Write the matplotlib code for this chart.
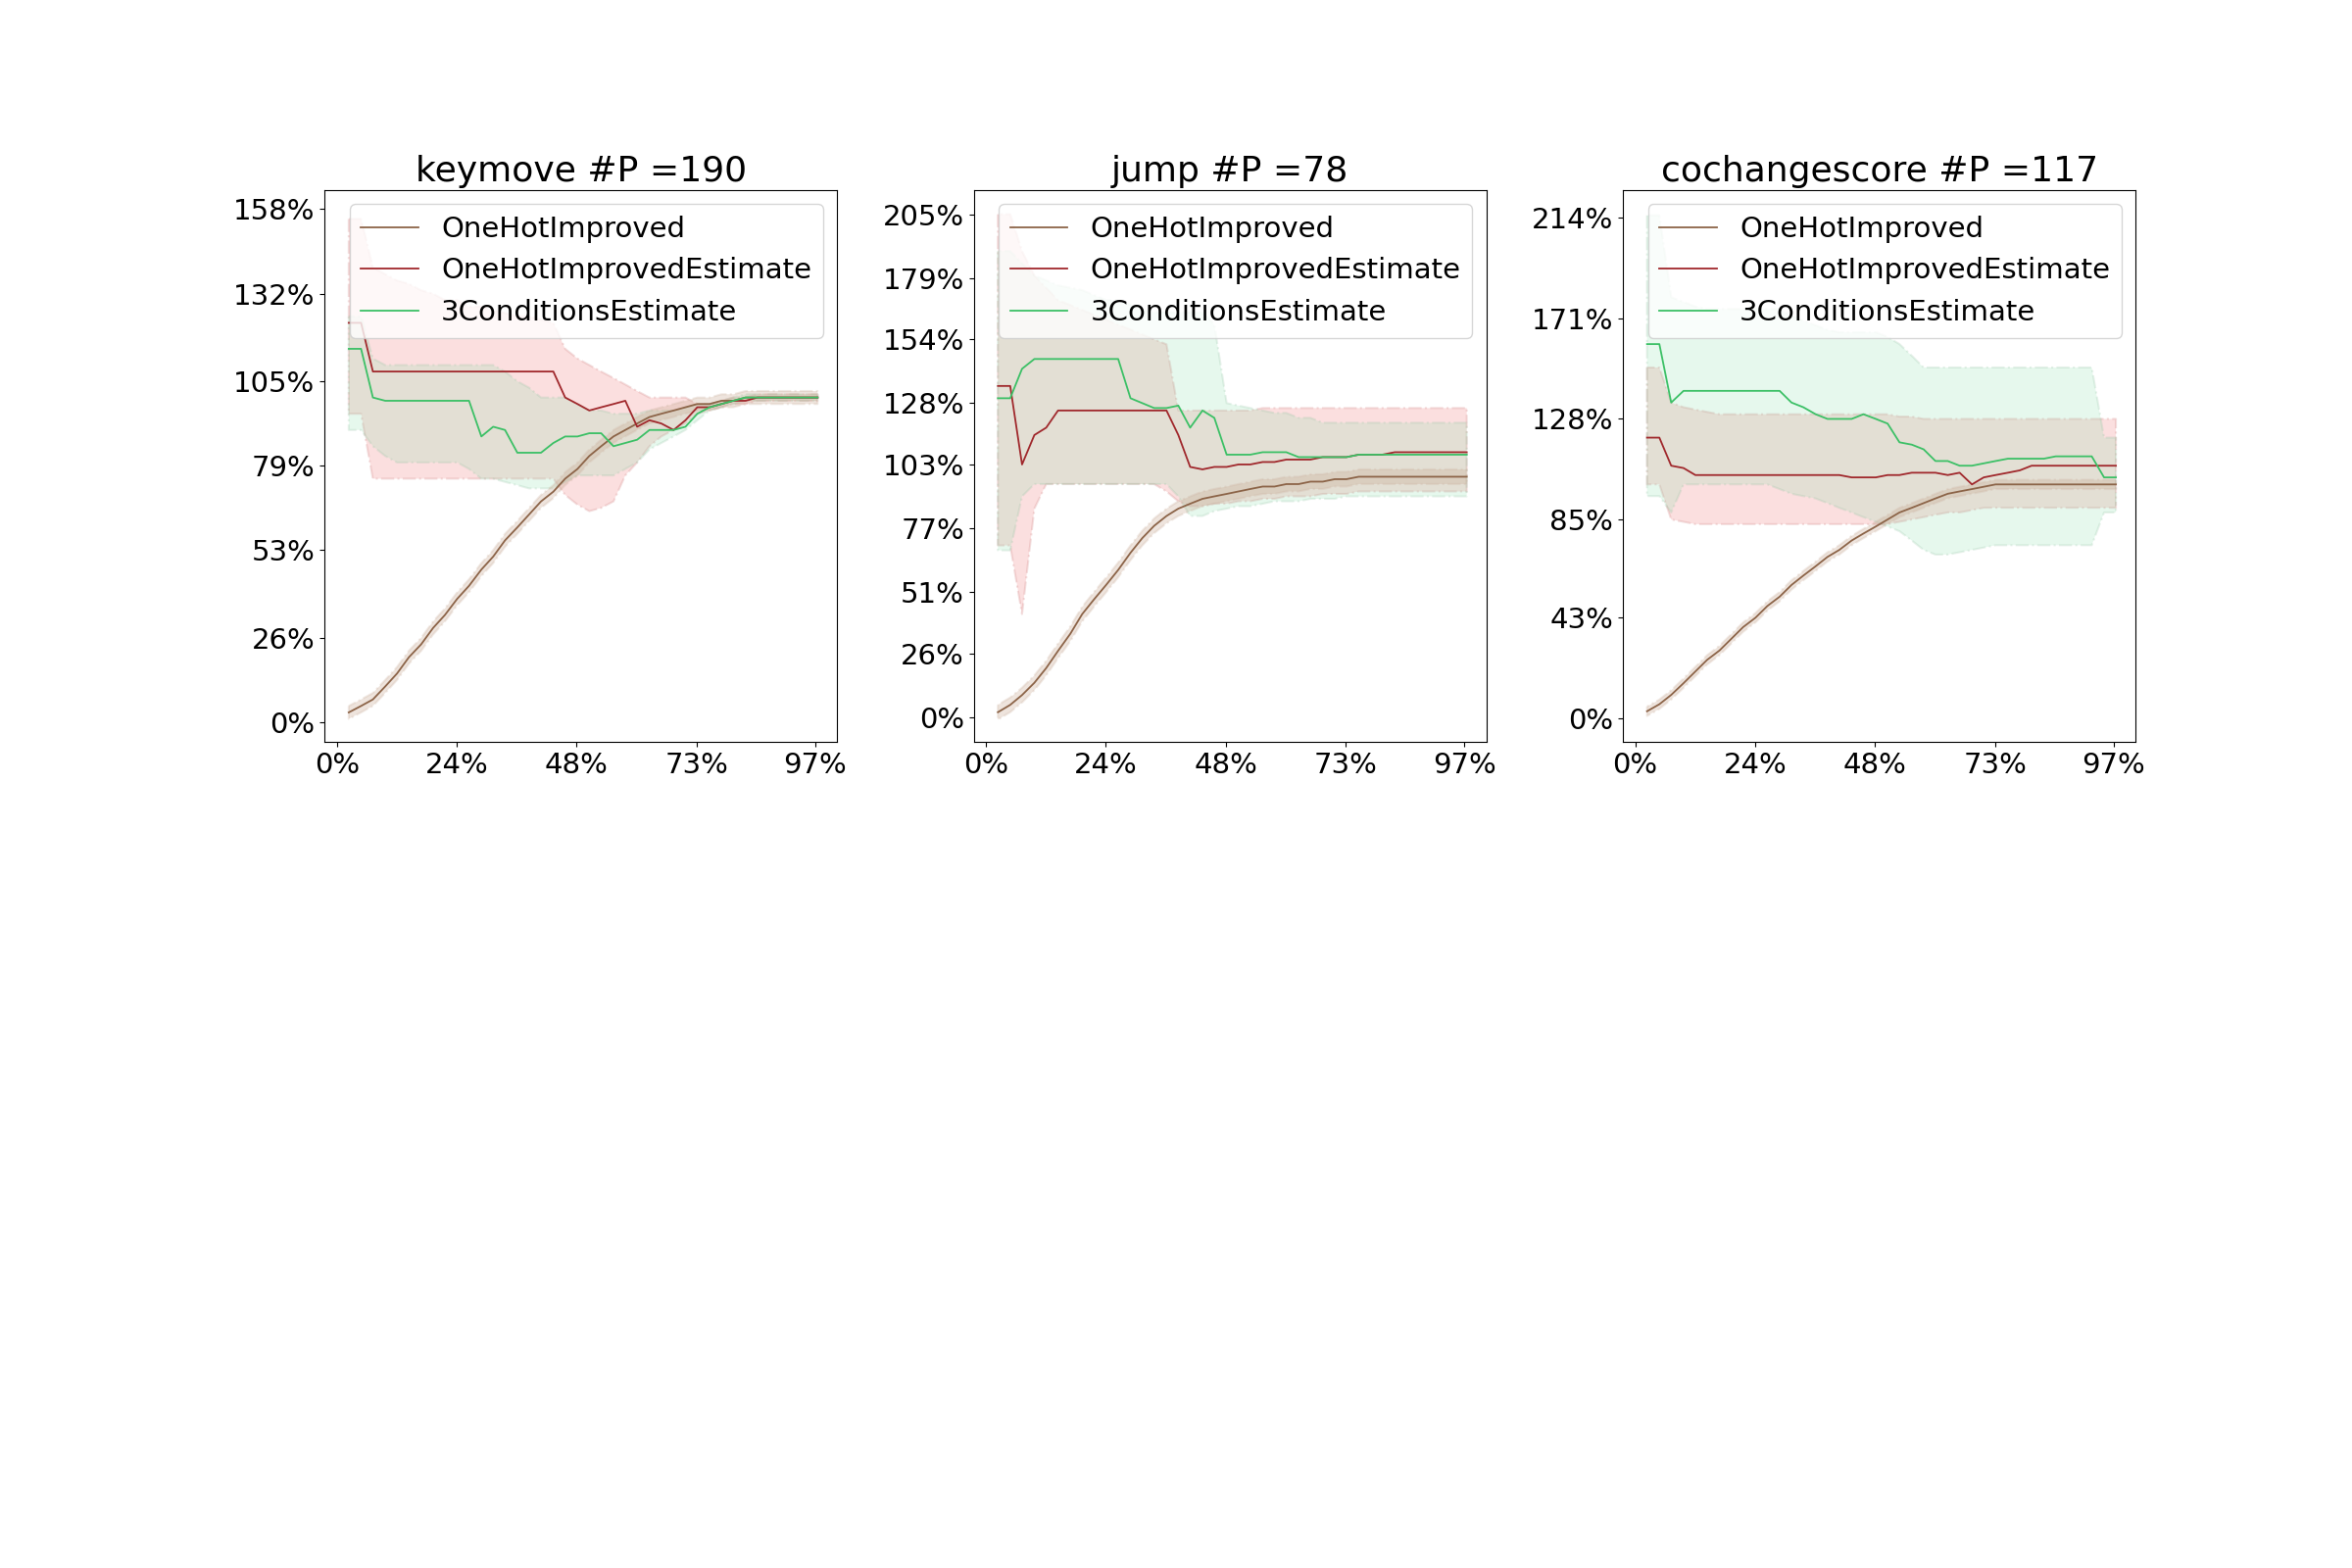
import matplotlib
matplotlib.use("Agg")
import matplotlib.pyplot as plt

# ================= Data =================
X = [0.024, 0.049, 0.073, 0.098, 0.122, 0.146, 0.171, 0.195, 0.219, 0.244,
     0.268, 0.293, 0.317, 0.341, 0.366, 0.39, 0.414, 0.439, 0.463, 0.488,
     0.512, 0.536, 0.561, 0.585, 0.609, 0.634, 0.658, 0.683, 0.707, 0.731,
     0.756, 0.78, 0.804, 0.829, 0.853, 0.878, 0.902, 0.926, 0.951, 0.975]

TITLES = ['keymove #P =190', 'jump #P =78', 'cochangescore #P =117']
X_TICKS = [0, 0.243, 0.486, 0.73, 0.97]
X_LABELS = ['0%', '24%', '48%', '73%', '97%']
Y_TICKS = [[0, 26, 53, 79, 105, 132, 158],
           [0, 26, 51, 77, 103, 128, 154, 179, 205],
           [0, 43, 85, 128, 171, 214]]
Y_LIMS = [(-6, 164), (-10, 215), (-10, 226)]
OH_WIDTH = [2, 3, 2]

# keymove
km_oh = [3, 5, 7, 11, 15, 20, 24, 29, 33, 38, 42, 47, 51, 56, 60, 64, 68, 71, 75, 78,
         82, 85, 88, 90, 92, 94, 95, 96, 97, 98, 98, 99, 99, 100, 100, 100, 100, 100, 100, 100]
km_red = [123, 123, 108, 108, 108, 108, 108, 108, 108, 108, 108, 108, 108, 108, 108, 108, 108, 108, 100, 98,
          96, 97, 98, 99, 91, 93, 92, 90, 93, 97, 97, 98, 99, 99, 100, 100, 100, 100, 100, 100]
km_green = [115, 115, 100, 99, 99, 99, 99, 99, 99, 99, 99, 88, 91, 90, 83, 83, 83, 86, 88, 88,
            89, 89, 85, 86, 87, 90, 90, 90, 91, 95, 97, 98, 99, 100, 100, 100, 100, 100, 100, 100]
km_red_hi = [155, 155, 140, 138, 136, 135, 133, 132, 130, 130, 128, 128, 127, 126, 125, 125, 124, 123, 115, 112,
             110, 108, 106, 104, 102, 100, 100, 100, 100, 98, 98, 99, 100, 100, 101, 101, 101, 101, 101, 101]
km_red_lo = [95, 95, 75, 75, 75, 75, 75, 75, 75, 75, 75, 75, 75, 75, 75, 75, 75, 75, 70, 67,
             65, 66, 68, 76, 80, 85, 88, 90, 92, 95, 96, 97, 98, 98, 99, 99, 99, 99, 99, 99]
km_gr_hi = [125, 125, 112, 110, 110, 110, 110, 110, 110, 110, 110, 110, 110, 108, 105, 103, 100, 100, 100, 98,
            96, 96, 95, 95, 95, 96, 96, 96, 97, 98, 98, 99, 100, 101, 101, 101, 101, 101, 101, 101]
km_gr_lo = [90, 90, 85, 82, 80, 80, 80, 80, 80, 80, 78, 75, 75, 74, 73, 72, 72, 72, 74, 76,
            76, 76, 76, 78, 80, 84, 86, 88, 90, 93, 96, 97, 98, 99, 99, 99, 99, 99, 99, 99]

# jump
jp_oh = [2, 5, 9, 14, 20, 27, 34, 42, 48, 54, 60, 67, 73, 78, 82, 85, 87, 89, 90, 91,
         92, 93, 94, 94, 95, 95, 96, 96, 97, 97, 98, 98, 98, 98, 98, 98, 98, 98, 98, 98]
jp_red = [135, 135, 103, 115, 118, 125, 125, 125, 125, 125, 125, 125, 125, 125, 125, 115, 102, 101, 102, 102,
          103, 103, 104, 104, 105, 105, 105, 106, 106, 106, 107, 107, 107, 108, 108, 108, 108, 108, 108, 108]
jp_green = [130, 130, 142, 146, 146, 146, 146, 146, 146, 146, 146, 130, 128, 126, 126, 127, 118, 125, 122, 107,
            107, 107, 108, 108, 108, 106, 106, 106, 106, 106, 107, 107, 107, 107, 107, 107, 107, 107, 107, 107]
jp_red_hi = [205, 205, 190, 180, 175, 170, 168, 166, 164, 162, 160, 158, 156, 154, 152, 125, 125, 125, 125, 125,
             125, 125, 126, 126, 126, 126, 126, 126, 126, 126, 126, 126, 126, 126, 126, 126, 126, 126, 126, 126]
jp_red_lo = [70, 70, 42, 85, 95, 95, 95, 95, 95, 95, 95, 95, 95, 95, 92, 88, 86, 86, 87, 87,
             88, 88, 89, 89, 90, 90, 90, 91, 91, 91, 92, 92, 92, 92, 92, 92, 92, 92, 92, 92]
jp_gr_hi = [190, 190, 185, 180, 178, 176, 175, 174, 172, 170, 170, 168, 166, 165, 165, 165, 165, 165, 160, 128,
            127, 126, 125, 124, 124, 122, 122, 120, 120, 120, 120, 120, 120, 120, 120, 120, 120, 120, 120, 120]
jp_gr_lo = [68, 68, 90, 95, 95, 95, 95, 95, 95, 95, 95, 95, 95, 95, 95, 90, 82, 82, 84, 85,
            86, 86, 87, 88, 88, 88, 89, 89, 89, 90, 90, 90, 90, 90, 90, 90, 90, 90, 90, 90]

# cochangescore
cc_oh = [3, 6, 10, 15, 20, 25, 29, 34, 39, 43, 48, 52, 57, 61, 65, 69, 72, 76, 79, 82,
         85, 88, 90, 92, 94, 96, 97, 98, 99, 100, 100, 100, 100, 100, 100, 100, 100, 100, 100, 100]
cc_red = [120, 120, 108, 107, 104, 104, 104, 104, 104, 104, 104, 104, 104, 104, 104, 104, 104, 103, 103, 103,
          104, 104, 105, 105, 105, 104, 105, 100, 103, 104, 105, 106, 108, 108, 108, 108, 108, 108, 108, 108]
cc_green = [160, 160, 135, 140, 140, 140, 140, 140, 140, 140, 140, 140, 135, 133, 130, 128, 128, 128, 130, 128,
            126, 118, 117, 115, 110, 110, 108, 108, 109, 110, 111, 111, 111, 111, 112, 112, 112, 112, 103, 103]
cc_red_hi = [150, 150, 135, 133, 132, 131, 130, 130, 130, 130, 130, 130, 130, 130, 130, 130, 130, 130, 130, 130,
             130, 129, 129, 128, 128, 128, 128, 128, 128, 128, 128, 128, 128, 128, 128, 128, 128, 128, 128, 128]
cc_red_lo = [100, 100, 85, 84, 83, 83, 83, 83, 83, 83, 83, 83, 83, 83, 83, 83, 83, 83, 83, 83,
             83, 84, 85, 86, 87, 88, 88, 89, 90, 90, 90, 90, 90, 90, 90, 90, 90, 90, 90, 90]
cc_gr_hi = [215, 215, 180, 178, 176, 175, 175, 175, 175, 175, 175, 175, 172, 170, 168, 166, 165, 165, 165, 165,
            163, 160, 155, 150, 150, 150, 150, 150, 150, 150, 150, 150, 150, 150, 150, 150, 150, 150, 120, 120]
cc_gr_lo = [95, 95, 88, 100, 100, 100, 100, 100, 100, 100, 100, 98, 96, 95, 94, 92, 90, 88, 86, 84,
            82, 80, 76, 72, 70, 70, 71, 72, 73, 74, 74, 74, 74, 74, 74, 74, 74, 74, 88, 88]

PANELS = [
    (km_oh, km_red, km_green, km_red_hi, km_red_lo, km_gr_hi, km_gr_lo),
    (jp_oh, jp_red, jp_green, jp_red_hi, jp_red_lo, jp_gr_hi, jp_gr_lo),
    (cc_oh, cc_red, cc_green, cc_red_hi, cc_red_lo, cc_gr_hi, cc_gr_lo),
]
# ===============================================

BROWN = '#8c6448'
RED = '#a0282c'
GREEN = '#3cc066'

fig = plt.figure(figsize=(24, 16), dpi=100)
lefts = [0.138, 0.414, 0.690]

for i, (oh, red, green, rhi, rlo, ghi, glo) in enumerate(PANELS):
    ax = fig.add_axes([lefts[i], 0.527, 0.218, 0.352])

    ax.fill_between(X, rlo, rhi, color='#f08080', alpha=0.25, linestyle='-.', linewidth=1.5, edgecolor='#d08080')
    ax.fill_between(X, glo, ghi, color='#90e0b0', alpha=0.22, linestyle='-.', linewidth=1.5, edgecolor='#90c0a0')
    w = OH_WIDTH[i]
    ax.fill_between(X, [v - w for v in oh], [v + w for v in oh], color='#c8a890', alpha=0.3,
                    linestyle='-.', linewidth=1.5, edgecolor='#d0b8a8')

    ax.plot(X, oh, color=BROWN, linewidth=1.3, label='OneHotImproved')
    ax.plot(X, red, color=RED, linewidth=1.3, label='OneHotImprovedEstimate')
    ax.plot(X, green, color=GREEN, linewidth=1.3, label='3ConditionsEstimate')

    ax.set_title(TITLES[i], fontsize=26)
    ax.set_xlim(-0.025, 1.015)
    ax.set_ylim(*Y_LIMS[i])
    ax.set_xticks(X_TICKS)
    ax.set_xticklabels(X_LABELS)
    ax.set_yticks(Y_TICKS[i])
    ax.set_yticklabels([f'{t}%' for t in Y_TICKS[i]])
    ax.tick_params(labelsize=21)
    ax.legend(loc='upper right', fontsize=21)

fig.savefig('out.png')
